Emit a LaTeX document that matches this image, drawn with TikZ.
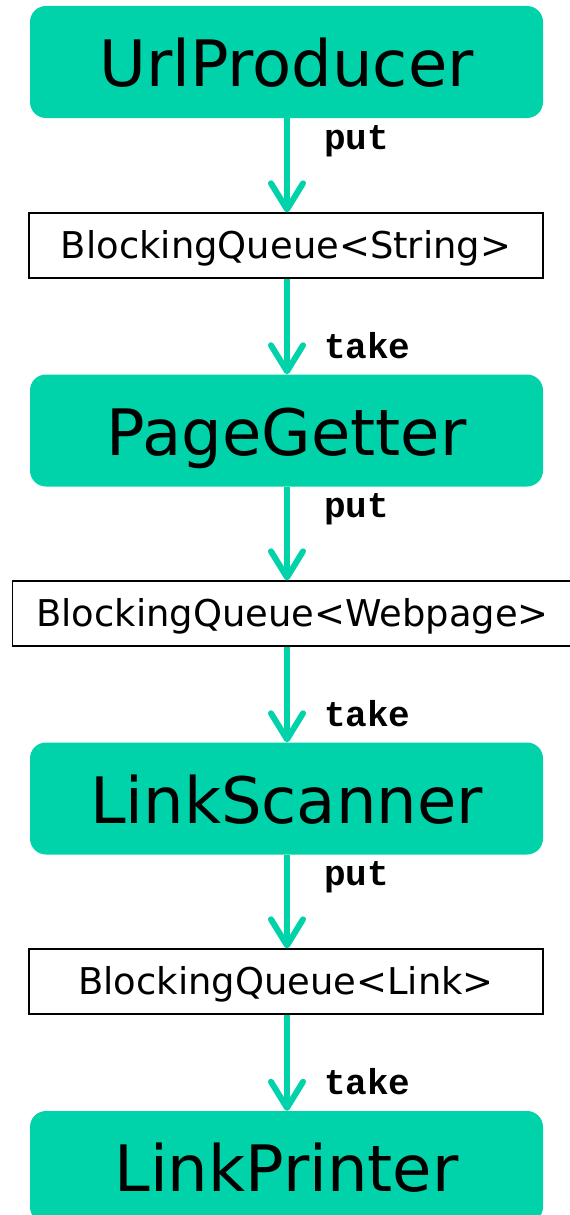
\documentclass[tikz,border=0pt]{standalone}
\usepackage{fontspec}
\setmainfont{DejaVu Sans}
\setmonofont{Liberation Mono}
\usetikzlibrary{arrows.meta}
\definecolor{teal}{RGB}{0,210,170}
\begin{document}
\begin{tikzpicture}[x=1pt,y=-1pt,
  actor/.style={fill=teal,draw=none,rounded corners=16pt,minimum width=513pt,minimum height=112pt,inner sep=0pt,text height=49.7pt,text depth=0pt,font=\fontsize{64}{70}\selectfont},
  queue/.style={draw=black,line width=1.3pt,fill=white,minimum height=65pt,inner sep=0pt,text height=26.9pt,text depth=0pt,font=\fontsize{36.9}{40}\selectfont},
  flow/.style={draw=teal,line width=6pt,-{Straight Barb[length=26pt,width=32pt,line width=6pt,round]}},
  op/.style={anchor=west,font=\fontsize{36}{38}\selectfont\ttfamily\bfseries,inner sep=0pt}]
\useasboundingbox (0,0) rectangle (570,1215);
\clip (0,0) rectangle (570,1215);
\node[actor] (up) at (286.5,62) {UrlProducer};
\node[queue,minimum width=514pt] (q1) at (286,245.5) {BlockingQueue<String>};
\node[actor] (pg) at (286.5,430.5) {PageGetter};
\node[queue,minimum width=560pt] (q2) at (292.5,613.5) {BlockingQueue<Webpage>};
\node[actor] (ls) at (286.5,798.5) {LinkScanner};
\node[queue,minimum width=514pt] (q3) at (286,981.5) {BlockingQueue<Link>};
\node[actor] (lp) at (286.5,1167) {LinkPrinter};
\draw[flow] (up.south -| 287,0) -- node[op,pos=0.24,xshift=34pt] (l1) {put} (q1.north -| 287,0);
\draw[flow] (q1.south -| 287,0) -- node[op,pos=0.70,xshift=34pt] (l2) {take} (pg.north -| 287,0);
\draw[flow] (pg.south -| 287,0) -- node[op,pos=0.24,xshift=34pt] (l3) {put} (q2.north -| 287,0);
\draw[flow] (q2.south -| 287,0) -- node[op,pos=0.70,xshift=34pt] (l4) {take} (ls.north -| 287,0);
\draw[flow] (ls.south -| 287,0) -- node[op,pos=0.24,xshift=34pt] (l5) {put} (q3.north -| 287,0);
\draw[flow] (q3.south -| 287,0) -- node[op,pos=0.70,xshift=34pt] (l6) {take} (lp.north -| 287,0);
\end{tikzpicture}
\end{document}
